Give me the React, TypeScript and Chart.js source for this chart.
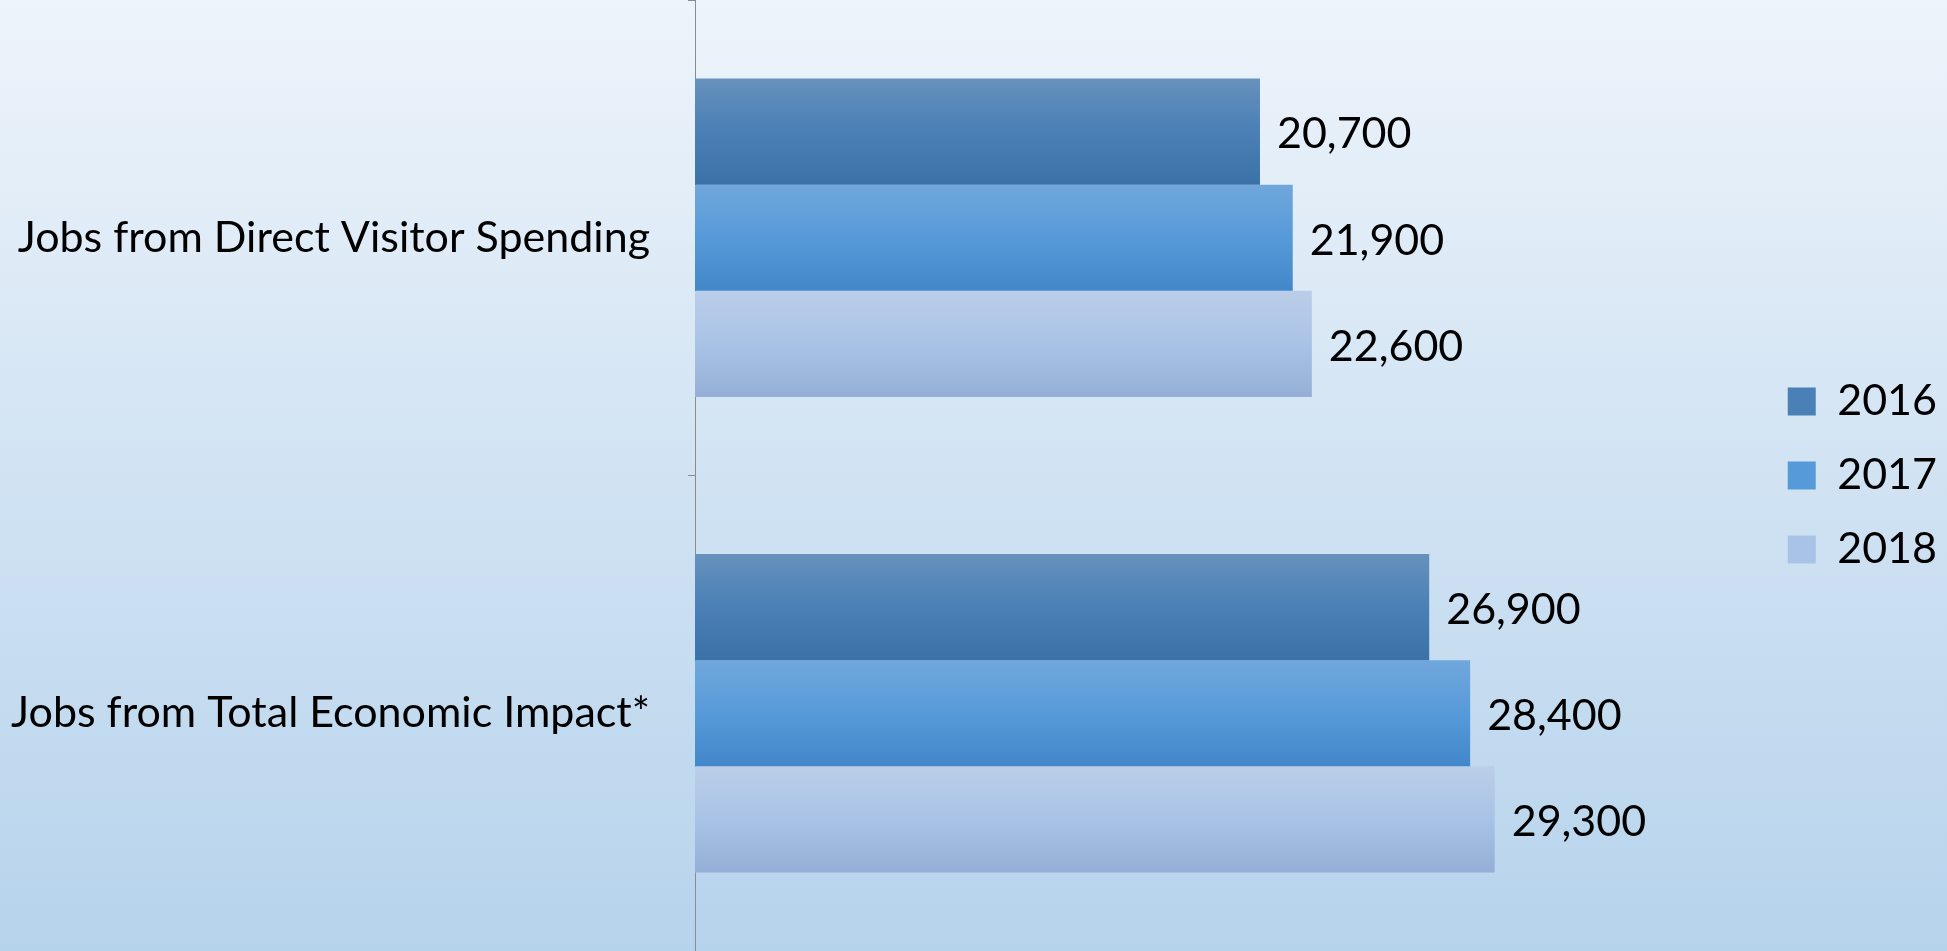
import React, { useEffect, useRef } from "react";
import { Chart, registerables } from "chart.js";

Chart.register(...registerables);

const categories = ["Jobs from Direct Visitor Spending", "Jobs from Total Economic Impact*"];
const seriesNames = ["2016", "2017", "2018"];
const values2016 = [20700, 26900];
const values2017 = [21900, 28400];
const values2018 = [22600, 29300];

const W = 1947;
const H = 951;
const FONT = "Lato, 'Noto Sans', sans-serif";
const FSIZE = 43;

const gradStops: string[][] = [
  ["#6691BC", "#4A80B6", "#3A71A7"],
  ["#70A7DC", "#579AD9", "#4287CA"],
  ["#BBCEE9", "#A9C3E6", "#95AED5"],
];
const flatColors = ["#4A80B6", "#579AD9", "#A9C3E6"];

const CAT_PCT = 0.67;

function barGradient(ctx: any, dsIndex: number) {
  const chart = ctx.chart;
  const y = chart.scales && chart.scales.y;
  if (ctx.type !== "data" || !y || !chart.chartArea) return flatColors[dsIndex];
  const center = y.getPixelForValue(ctx.dataIndex);
  const catW = y.getPixelForValue(1) - y.getPixelForValue(0);
  const barH = (catW * CAT_PCT) / 3;
  const c = center + (dsIndex - 1) * barH;
  const g = chart.ctx.createLinearGradient(0, c - barH / 2, 0, c + barH / 2);
  const s = gradStops[dsIndex];
  g.addColorStop(0, s[0]);
  g.addColorStop(0.5, s[1]);
  g.addColorStop(1, s[2]);
  return g;
}

const backgroundPlugin = {
  id: "bgGradient",
  beforeDraw(chart: any) {
    const { ctx, width, height } = chart;
    const g = ctx.createLinearGradient(0, 0, 0, height);
    g.addColorStop(0, "#EEF4FB");
    g.addColorStop(0.5, "#D1E3F3");
    g.addColorStop(1, "#B6D3EC");
    ctx.save();
    ctx.fillStyle = g;
    ctx.fillRect(0, 0, width, height);
    ctx.restore();
  },
};

const valueLabelPlugin = {
  id: "valueLabels",
  afterDatasetsDraw(chart: any) {
    const { ctx } = chart;
    ctx.save();
    ctx.font = `${FSIZE}px ${FONT}`;
    ctx.fillStyle = "#000000";
    ctx.textAlign = "left";
    ctx.textBaseline = "middle";
    chart.data.datasets.forEach((ds: any, di: number) => {
      const meta = chart.getDatasetMeta(di);
      meta.data.forEach((el: any, i: number) => {
        const v = ds.data[i] as number;
        ctx.fillText(v.toLocaleString("en-US"), el.x + 17, el.y + 3);
      });
    });
    ctx.restore();
  },
};

export default function App() {
  const ref = useRef<HTMLCanvasElement | null>(null);

  useEffect(() => {
    if (!ref.current) return;
    const series = [values2016, values2017, values2018];
    const chart = new Chart(ref.current, {
      type: "bar",
      data: {
        labels: categories,
        datasets: series.map((vals, i) => ({
          label: seriesNames[i],
          data: vals,
          backgroundColor: (c: any) => barGradient(c, i),
          borderWidth: 0,
          categoryPercentage: CAT_PCT,
          barPercentage: 1,
        })),
      },
      options: {
        indexAxis: "y",
        responsive: false,
        animation: false,
        devicePixelRatio: 1,
        layout: { padding: 0 },
        plugins: {
          tooltip: { enabled: false },
          legend: {
            position: "right",
            align: "center",
            labels: {
              boxWidth: 28,
              boxHeight: 28,
              padding: 31,
              color: "#000000",
              font: { family: FONT, size: FSIZE },
              generateLabels: (chart: any) =>
                chart.data.datasets.map((ds: any, i: number) => ({
                  text: ds.label,
                  fillStyle: flatColors[i],
                  strokeStyle: "rgba(0,0,0,0)",
                  lineWidth: 0,
                  hidden: false,
                  datasetIndex: i,
                })),
            },
          },
        },
        scales: {
          x: {
            display: false,
            min: 0,
            max: 38900,
          },
          y: {
            type: "category",
            afterFit: (scale: any) => {
              scale.width = 695;
              scale.paddingTop = 0;
              scale.paddingBottom = 0;
            },
            grid: {
              display: true,
              drawOnChartArea: false,
              offset: true,
              tickLength: 7,
              color: "#8C8C8C",
              lineWidth: 1,
            },
            border: { display: true, color: "#8C8C8C", width: 1 },
            ticks: {
              color: "#000000",
              padding: 38,
              font: { family: FONT, size: FSIZE },
            },
          },
        },
      },
      plugins: [backgroundPlugin, valueLabelPlugin],
    } as any);
    return () => chart.destroy();
  }, []);

  return (
    <div style={{ position: "fixed", left: 0, top: 0, width: W, height: H }}>
      <canvas ref={ref} width={W} height={H} style={{ width: W, height: H, display: "block" }} />
    </div>
  );
}
